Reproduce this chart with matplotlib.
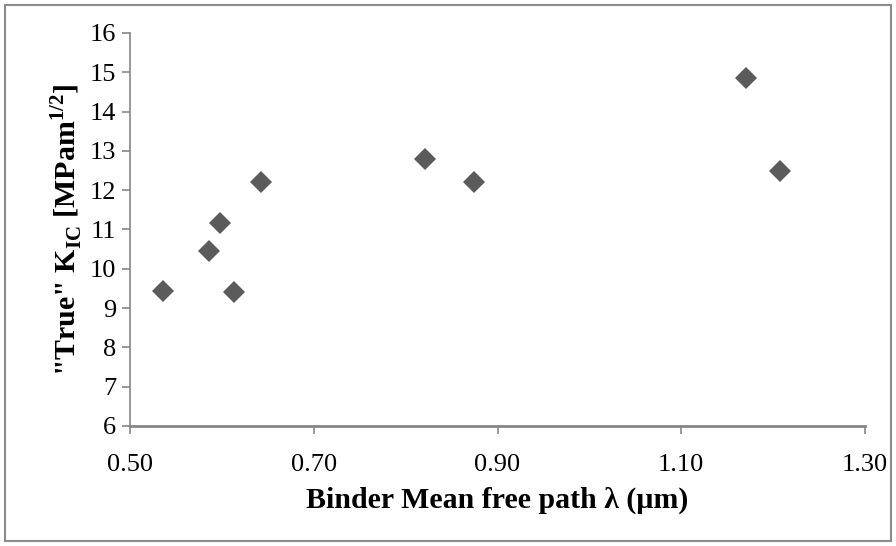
import matplotlib
matplotlib.use("Agg")
from matplotlib import pyplot as plt
from matplotlib.patches import Rectangle

# data
mean_free_path = [0.536, 0.586, 0.598, 0.613, 0.643, 0.821, 0.874, 1.170, 1.207]
true_kic = [9.44, 10.45, 11.16, 9.40, 12.22, 12.79, 12.22, 14.86, 12.50]

x_ticks = [0.50, 0.70, 0.90, 1.10, 1.30]
y_ticks = list(range(6, 17))

plt.rcParams['font.family'] = ['Liberation Serif', 'DejaVu Serif']
plt.rcParams['mathtext.fontset'] = 'custom'
plt.rcParams['mathtext.rm'] = 'Liberation Serif'
plt.rcParams['mathtext.bf'] = 'Liberation Serif:bold'

gris_eje = "#868686"

fig = plt.figure(figsize=(8.96, 5.46), dpi=100)
ax = fig.add_axes([0.1451, 0.2198, 0.8203, 0.7198])

ax.plot(mean_free_path, true_kic, linestyle="none", marker="D",
        markersize=11, color="#5b5b5b", markeredgewidth=0)

ax.set_xlim(0.5, 1.3)
ax.set_ylim(6, 16)
ax.set_xticks(x_ticks)
ax.set_xticklabels([f"{v:.2f}" for v in x_ticks])
ax.set_yticks(y_ticks)

for lado in ["top", "right"]:
    ax.spines[lado].set_visible(False)
for lado in ["left", "bottom"]:
    ax.spines[lado].set_color(gris_eje)
    ax.spines[lado].set_linewidth(1.2)
ax.spines["bottom"].set_linewidth(2)

ax.tick_params(axis="both", direction="out", length=6, width=1.2,
               color=gris_eje, labelsize=19, labelcolor="black")
ax.tick_params(axis="x", pad=14)
ax.tick_params(axis="y", pad=4)

ax.set_xlabel("Binder Mean free path \u03bb (\u00b5m)", fontsize=21.5,
              fontweight="bold", labelpad=8)
ax.set_ylabel('"True" K$_{\\mathbf{IC}}$ [MPam$^{\\mathbf{1/2}}$]', fontsize=21.5,
              fontweight="bold", labelpad=4)

fig.patches.append(Rectangle((0.006, 0.009), 0.988, 0.982, transform=fig.transFigure,
                             fill=False, edgecolor="#8c8c8c", linewidth=1.5))

fig.savefig("out.png", dpi=100)
